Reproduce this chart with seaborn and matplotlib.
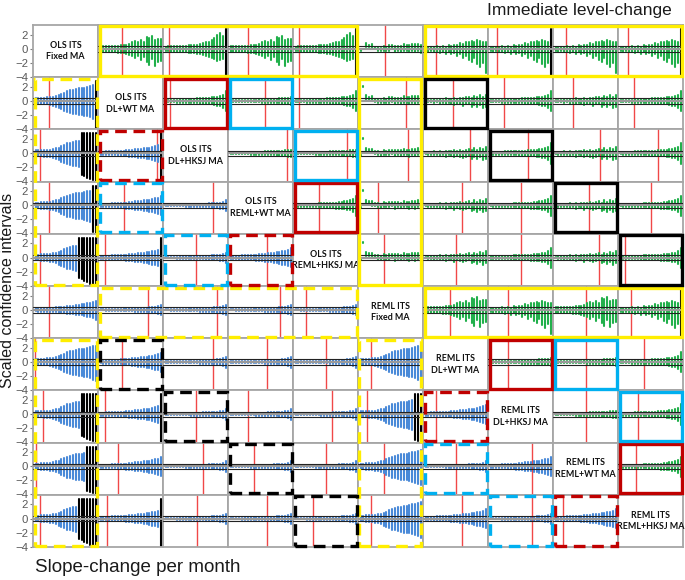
import numpy as np
import pandas as pd
import matplotlib
matplotlib.use("Agg")
import matplotlib.pyplot as plt
import seaborn as sns
from matplotlib.patches import Rectangle

# ── Data ──────────────────────────────────────────────────────
LABELS = [
    "OLS ITS\nFixed MA", "OLS ITS\nDL+WT MA", "OLS ITS\nDL+HKSJ MA",
    "OLS ITS\nREML+WT MA", "OLS ITS\nREML+HKSJ MA",
    "REML ITS\nFixed MA", "REML ITS\nDL+WT MA", "REML ITS\nDL+HKSJ MA",
    "REML ITS\nREML+WT MA", "REML ITS\nREML+HKSJ MA",
]

# interval profiles (22 studies each), upper / lower end of scaled CI
GF_TOP = [0.35, 0.4, 0.4, 0.35, 0.45, 0.4, 0.45, 0.5, 0.5, 0.6, 0.7, 0.9, 1.1, 0.9, 1.3, 1.0, 1.7, 1.5, 1.8, 1.3, 1.4, 1.4]
GF_BOT = [-0.4, -0.45, -0.5, -0.45, -0.5, -0.5, -0.55, -0.6, -0.6, -0.7, -0.9, -1.1, -1.3, -1.0, -1.6, -1.2, -1.9, -2.3, -1.4, -2.4, -1.9, -1.8]
GR_TOP = [0.3, 0.35, 0.35, 0.4, 0.4, 0.4, 0.45, 0.45, 0.5, 0.5, 0.55, 0.6, 0.7, 0.8, 0.9, 1.0, 1.3, 1.6, 1.9, 2.2, 1.8, 1.5]
GR_BOT = [-0.35, -0.35, -0.4, -0.4, -0.45, -0.45, -0.5, -0.5, -0.55, -0.6, -0.6, -0.7, -0.8, -0.9, -1.0, -1.2, -1.3, -1.5, -1.7, -1.6, -1.5, -1.5]
GD_TOP = [0.2, 0.3, 0.3, 0.2, 0.35, 0.3, 0.4, 0.3, 0.5, 0.4, 0.6, 0.5, 0.8, 0.7, 0.9, 1.0, 1.1, 1.0, 1.2, 1.1, 1.0, 1.0]
GD_BOT = [-0.3, -0.4, -0.3, -0.5, -0.4, -0.6, -0.4, -0.7, -0.5, -0.8, -0.6, -1.0, -0.8, -1.3, -1.0, -1.6, -1.9, -1.3, -2.2, -2.6, -2.0, -3.4]
GT_TOP = [0.15, 0.15, 0.2, 0.2, 0.2, 0.25, 0.25, 0.25, 0.3, 0.3, 0.3, 0.35, 0.35, 0.4, 0.4, 0.45, 0.5, 0.55, 0.6, 0.7, 0.9, 1.4]
GT_BOT = [-0.15, -0.2, -0.2, -0.2, -0.25, -0.25, -0.25, -0.3, -0.3, -0.3, -0.35, -0.35, -0.4, -0.4, -0.45, -0.45, -0.5, -0.55, -0.65, -0.7, -0.95, -1.5]
GL_TOP = [0.1, 0.2, 0.15, 0.25, 0.2, 0.3, 0.2, 0.35, 0.25, 0.3, 0.4, 0.3, 0.45, 0.35, 0.5, 0.6, 0.4, 0.7, 0.5, 0.8, 0.6, 0.9]
GL_BOT = [-0.1, -0.2, -0.2, -0.3, -0.2, -0.4, -0.3, -0.5, -0.3, -0.4, -0.6, -0.4, -0.5, -0.7, -0.5, -0.4, -0.8, -0.6, -0.9, -0.6, -1.0, -0.8]
GZ_TOP = [0.1, 0.12, 0.12, 0.15, 0.15, 0.15, 0.18, 0.18, 0.2, 0.2, 0.22, 0.22, 0.25, 0.25, 0.28, 0.3, 0.3, 0.35, 0.35, 0.4, 0.45, 0.5]
GZ_BOT = [-0.1, -0.12, -0.15, -0.15, -0.15, -0.18, -0.18, -0.2, -0.2, -0.22, -0.22, -0.25, -0.25, -0.28, -0.3, -0.3, -0.35, -0.35, -0.4, -0.45, -0.5, -0.55]
GS_TOP = [-0.24, 2.16, 0.8, 0.6, 0.65, 0.3, 0.3, 0.15, 0.45, 0.3, 0.5, 0.5, 0.45, 0.45, 0.4, 0.65, 0.5, 0.5, 0.65, 0.65, 0.7, 0.6]
GS_BOT = [-0.36, 2.04, 0.2, 0.2, -0.05, -0.1, -0.3, -0.35, -0.25, -0.3, -0.3, -0.1, -0.45, -0.25, -0.4, -0.25, -0.3, -0.5, -0.25, -0.45, -0.3, -0.6]
BF_TOP = [0.4, 0.4, 0.45, 0.45, 0.5, 0.5, 0.6, 0.7, 0.8, 1.0, 1.2, 1.4, 1.5, 1.6, 1.7, 1.8, 1.8, 1.9, 2.0, 2.1, 2.2, 2.3]
BF_BOT = [-0.4, -0.4, -0.45, -0.5, -0.5, -0.6, -0.7, -0.8, -1.0, -1.2, -1.4, -1.6, -1.7, -1.8, -1.9, -2.0, -2.0, -2.1, -2.2, -2.3, -2.5, -2.7]
BT_TOP = [0.2, 0.2, 0.25, 0.25, 0.3, 0.3, 0.3, 0.35, 0.35, 0.4, 0.45, 0.5, 0.55, 0.6, 0.65, 0.7, 0.75, 0.8, 0.9, 1.0, 1.1, 1.3]
BT_BOT = [-0.2, -0.25, -0.25, -0.3, -0.3, -0.3, -0.35, -0.35, -0.4, -0.45, -0.5, -0.55, -0.6, -0.65, -0.7, -0.75, -0.8, -0.9, -1.0, -1.1, -1.2, -1.4]
BZ_TOP = [0.08, 0.1, 0.1, 0.12, 0.12, 0.15, 0.15, 0.15, 0.18, 0.18, 0.2, 0.2, 0.22, 0.25, 0.25, 0.28, 0.3, 0.32, 0.35, 0.4, 0.5, 0.7]
BZ_BOT = [-0.08, -0.1, -0.12, -0.12, -0.15, -0.15, -0.15, -0.18, -0.18, -0.2, -0.2, -0.22, -0.25, -0.25, -0.28, -0.3, -0.32, -0.35, -0.4, -0.45, -0.55, -0.8]
# intervals that exceed the others (drawn black), last n studies
BLK_TOP = [2.8, 2.8, 2.8, 2.8, 2.8, 2.8, 2.8]
BLK_BOT = [-2.9, -3.1, -3.3, -3.5, -3.7, -3.8, -3.9]

KIND = [
    ["",   "GF", "GR", "GF", "GR", "GS", "GD", "GD", "GD", "GD"],
    ["BF", "",   "GT", "GZ", "GT", "GS", "GL", "GT", "GL", "GT"],
    ["BF", "BT", "",   "GZ", "GZ", "GS", "GL", "GT", "GL", "GT"],
    ["BF", "BT", "BZ", "",   "GT", "GS", "GL", "GT", "GL", "GT"],
    ["BF", "BT", "BZ", "BT", "",   "GS", "GL", "GT", "GL", "GT"],
    ["BT", "BZ", "BZ", "BZ", "BZ", "",   "GF", "GD", "GF", "GD"],
    ["BF", "BT", "BZ", "BZ", "BZ", "BF", "",   "GZ", "GZ", "GT"],
    ["BF", "BT", "BZ", "BZ", "BZ", "BF", "BT", "",   "GZ", "GT"],
    ["BF", "BT", "BZ", "BZ", "BZ", "BF", "BZ", "BT", "",   "GT"],
    ["BF", "BT", "BZ", "BZ", "BZ", "BF", "BT", "BZ", "BT", ""],
]
N_BLACK = [
    [0, 0, 1, 0, 1, 0, 0, 1, 0, 1],
    [1, 0, 0, 0, 0, 0, 0, 0, 0, 0],
    [6, 1, 0, 0, 0, 0, 0, 0, 0, 0],
    [2, 0, 0, 0, 0, 0, 0, 0, 0, 0],
    [7, 1, 0, 0, 0, 0, 0, 0, 0, 0],
    [0, 0, 0, 0, 0, 0, 0, 0, 0, 1],
    [0, 0, 0, 0, 0, 0, 0, 0, 0, 0],
    [6, 1, 0, 0, 0, 3, 0, 0, 0, 0],
    [4, 0, 0, 0, 0, 0, 0, 0, 0, 0],
    [7, 1, 0, 0, 0, 0, 0, 0, 0, 0],
]
# red reference line, fraction of panel width
RED = [
    [None, 0.37, 0.09, 0.31, 0.09, 0.42, 0.20, 0.14, 0.20, 0.15],
    [0.25, None, 0.11, 0.57, 0.09, 0.74, 0.46, 0.25, 0.31, 0.25],
    [0.10, 0.90, None, 0.90, 0.83, 0.77, 0.72, 0.62, 0.72, 0.62],
    [0.25, 0.40, 0.77, None, 0.40, 0.30, 0.60, 0.50, 0.55, 0.50],
    [0.10, 0.10, 0.50, 0.60, None, 0.40, 0.50, 0.50, 0.70, 0.10],
    [0.25, 0.77, 0.83, 0.80, 0.20, None, 0.42, 0.30, 0.50, 0.20],
    [0.03, 0.37, 0.77, 0.60, 0.50, 0.20, None, 0.30, 0.50, 0.40],
    [0.15, 0.10, 0.50, 0.30, 0.60, 0.14, 0.20, None, 0.50, 0.30],
    [0.05, 0.30, 0.62, 0.40, 0.50, 0.40, 0.50, 0.68, None, 0.27],
    [0.10, 0.14, 0.52, 0.60, 0.30, 0.20, 0.60, 0.68, 0.15, None],
]
# highlighted groups: (row0, col0, row1, col1, colour, dashed)
BOXES = [
    (0, 1, 0, 4, "yellow", False), (0, 6, 0, 9, "yellow", False),
    (1, 5, 4, 5, "yellow", False), (5, 6, 5, 9, "yellow", False),
    (1, 2, 1, 2, "red", False), (3, 4, 3, 4, "red", False),
    (6, 7, 6, 7, "red", False), (8, 9, 8, 9, "red", False),
    (1, 3, 1, 3, "blue", False), (2, 4, 2, 4, "blue", False),
    (6, 8, 6, 8, "blue", False), (7, 9, 7, 9, "blue", False),
    (1, 6, 1, 6, "black", False), (2, 7, 2, 7, "black", False),
    (3, 8, 3, 8, "black", False), (4, 9, 4, 9, "black", False),
    (1, 0, 4, 0, "yellow", True), (6, 0, 9, 0, "yellow", True),
    (5, 1, 5, 4, "yellow", True), (6, 5, 9, 5, "yellow", True),
    (2, 1, 2, 1, "red", True), (4, 3, 4, 3, "red", True),
    (7, 6, 7, 6, "red", True), (9, 8, 9, 8, "red", True),
    (3, 1, 3, 1, "blue", True), (4, 2, 4, 2, "blue", True),
    (8, 6, 8, 6, "blue", True), (9, 7, 9, 7, "blue", True),
    (6, 1, 6, 1, "black", True), (7, 2, 7, 2, "black", True),
    (8, 3, 8, 3, "black", True), (9, 4, 9, 4, "black", True),
]

PROFILES = {
    "GF": (GF_TOP, GF_BOT), "GR": (GR_TOP, GR_BOT), "GD": (GD_TOP, GD_BOT),
    "GT": (GT_TOP, GT_BOT), "GL": (GL_TOP, GL_BOT), "GZ": (GZ_TOP, GZ_BOT),
    "GS": (GS_TOP, GS_BOT), "BF": (BF_TOP, BF_BOT), "BT": (BT_TOP, BT_BOT),
    "BZ": (BZ_TOP, BZ_BOT),
}
BOX_COLORS = {"yellow": "#ffee00", "red": "#c00000", "blue": "#00b0f0", "black": "#000000"}
GREEN, BLUE = "#21b04b", "#4a8ad8"

# ── Figure ────────────────────────────────────────────────────
sns.set_theme(style="white")
plt.rcParams["font.family"] = ["Liberation Sans", "DejaVu Sans"]

W, H = 685, 580
X0, Y0, CW, CH = 33, 25, 65, 52.2
XL = (-0.9, 21.7)
fig = plt.figure(figsize=(W / 100, H / 100), dpi=100)

for r in range(10):
    for c in range(10):
        ax = fig.add_axes([(X0 + c * CW) / W, 1 - (Y0 + (r + 1) * CH) / H, CW / W, CH / H])
        ax.set_xlim(*XL)
        ax.set_ylim(-4.05, 3.38)
        ax.set_xticks([])
        for s in ax.spines.values():
            s.set_color("#a6a6a6")
            s.set_linewidth(1.3)
        if c == 0:
            ax.set_yticks([2, 0, -2, -4])
            ax.tick_params(axis="y", left=True, length=2.5, width=0.8, color="#7f7f7f",
                           labelsize=8.2, labelcolor="#595959", pad=1)
        else:
            ax.set_yticks([])

        if r == c:
            ax.text(0.5, 0.5, LABELS[r], transform=ax.transAxes, ha="center", va="center",
                    fontsize=6.4, fontweight="bold", family=["Lato", "DejaVu Sans"],
                    linespacing=1.35, color="#111111")
            continue

        top, bot = PROFILES[KIND[r][c]]
        top, bot = list(top), list(bot)
        n = len(top)
        nb = N_BLACK[r][c]
        status = ["ci"] * n
        for k in range(nb):
            i = n - nb + k
            top[i] = BLK_TOP[len(BLK_TOP) - nb + k]
            bot[i] = BLK_BOT[len(BLK_BOT) - nb + k]
            status[i] = "sig"
        df = pd.DataFrame({
            "x": list(range(n)) * 2,
            "y": bot + top,
            "unit": list(range(n)) * 2,
            "status": status * 2,
        })
        col = GREEN if KIND[r][c].startswith("G") else BLUE
        ax.axvline(XL[0] + RED[r][c] * (XL[1] - XL[0]), color="#f04848", lw=1.0, zorder=1)
        sns.lineplot(data=df, x="x", y="y", units="unit", estimator=None, hue="status",
                     palette={"ci": col, "sig": "black"}, lw=1.5, legend=False,
                     sort=False, ax=ax, zorder=2)
        ax.axhline(0.0, color="#9a9a9a", lw=1.6, zorder=3)
        ax.axhline(0.35, color="#222222", lw=0.8, zorder=3)
        ax.axhline(-0.4, color="#222222", lw=0.8, zorder=3)
        ax.set_xlabel("")
        ax.set_ylabel("")

# highlight frames
for r0, c0, r1, c1, name, dashed in BOXES:
    x = (X0 + c0 * CW + 1.5) / W
    y = 1 - (Y0 + (r1 + 1) * CH - 1.5) / H
    w = ((c1 - c0 + 1) * CW - 3) / W
    h = ((r1 - r0 + 1) * CH - 3) / H
    rect = Rectangle((x, y), w, h, transform=fig.transFigure, fill=False,
                     edgecolor=BOX_COLORS[name], lw=2.4,
                     ls=(0, (3.5, 2)) if dashed else "-", zorder=10)
    fig.add_artist(rect)

fig.text(672 / W, 1 - 10 / H, "Immediate level-change", ha="right", va="center",
         fontsize=12.5, color="#1a1a1a")
fig.text(35 / W, 1 - 568 / H, "Slope-change per month", ha="left", va="center",
         fontsize=13.5, color="#1a1a1a")
fig.text(8 / W, 1 - 290 / H, "Scaled confidence intervals", ha="center", va="center",
         rotation=90, fontsize=11.5, color="#1a1a1a")

fig.savefig("out.png", dpi=100)
